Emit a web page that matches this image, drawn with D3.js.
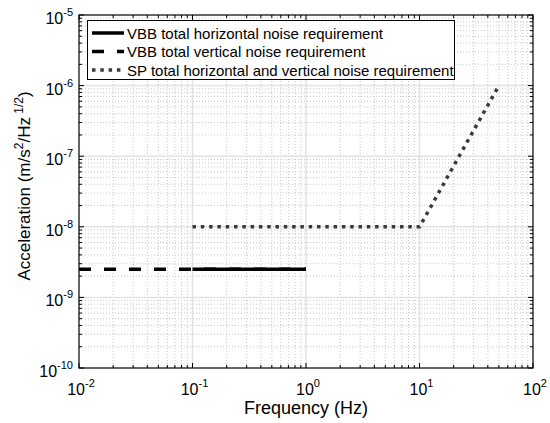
<!DOCTYPE html>
<html><head><meta charset="utf-8">
<script src="https://cdn.jsdelivr.net/npm/d3@7"></script>
<style>body{margin:0;background:#fff}svg{font-family:"Liberation Sans",Arial,sans-serif}</style>
</head><body><svg id="c" width="550" height="423"></svg>
<script>
const vbbHorizontal = [[0.1, 2.5e-9], [1, 2.5e-9]];
const vbbVertical = [[0.01, 2.5e-9], [1, 2.5e-9]];
const spTotal = [[0.1, 1e-8], [10, 1e-8], [50, 1e-6]];
const seriesNames = ["VBB total horizontal noise requirement", "VBB total vertical noise requirement", "SP total horizontal and vertical noise requirement"];
const xExps = [-2, -1, 0, 1, 2];
const yExps = [-10, -9, -8, -7, -6, -5];

const svg = d3.select("#c");
const m = {l: 79, r: 533, t: 15, b: 368};
const x = d3.scaleLog().domain([1e-2, 1e2]).range([m.l, m.r]);
const y = d3.scaleLog().domain([1e-10, 1e-5]).range([m.b, m.t]);

const minorX = [], minorY = [];
for (let e = -2; e < 2; e++) for (let k = 2; k < 10; k++) minorX.push(k * Math.pow(10, e));
for (let e = -10; e < -5; e++) for (let k = 2; k < 10; k++) minorY.push(k * Math.pow(10, e));

const g = svg.append("g");
g.selectAll(".mgx").data(minorX).enter().append("line")
  .attr("x1", d => x(d)).attr("x2", d => x(d)).attr("y1", m.t).attr("y2", m.b)
  .attr("stroke", "#c8c8c8").attr("stroke-width", 1).attr("stroke-dasharray", "1,2");
g.selectAll(".mgy").data(minorY).enter().append("line")
  .attr("y1", d => y(d)).attr("y2", d => y(d)).attr("x1", m.l).attr("x2", m.r)
  .attr("stroke", "#c8c8c8").attr("stroke-width", 1).attr("stroke-dasharray", "1,2");
g.selectAll(".gx").data(xExps.slice(1, -1)).enter().append("line")
  .attr("x1", d => x(Math.pow(10, d))).attr("x2", d => x(Math.pow(10, d))).attr("y1", m.t).attr("y2", m.b)
  .attr("stroke", "#e2e2e2").attr("stroke-width", 1.5);
g.selectAll(".gy").data(yExps.slice(1, -1)).enter().append("line")
  .attr("y1", d => y(Math.pow(10, d))).attr("y2", d => y(Math.pow(10, d))).attr("x1", m.l).attr("x2", m.r)
  .attr("stroke", "#e2e2e2").attr("stroke-width", 1.5);

const tk = svg.append("g").attr("stroke", "#000").attr("stroke-width", 1);
xExps.forEach(e => { const px = x(Math.pow(10, e));
  tk.append("line").attr("x1", px).attr("x2", px).attr("y1", m.b).attr("y2", m.b - 5);
  tk.append("line").attr("x1", px).attr("x2", px).attr("y1", m.t).attr("y2", m.t + 5); });
minorX.forEach(v => { const px = x(v);
  tk.append("line").attr("x1", px).attr("x2", px).attr("y1", m.b).attr("y2", m.b - 3);
  tk.append("line").attr("x1", px).attr("x2", px).attr("y1", m.t).attr("y2", m.t + 3); });
yExps.forEach(e => { const py = y(Math.pow(10, e));
  tk.append("line").attr("y1", py).attr("y2", py).attr("x1", m.l).attr("x2", m.l + 5);
  tk.append("line").attr("y1", py).attr("y2", py).attr("x1", m.r).attr("x2", m.r - 5); });
minorY.forEach(v => { const py = y(v);
  tk.append("line").attr("y1", py).attr("y2", py).attr("x1", m.l).attr("x2", m.l + 3);
  tk.append("line").attr("y1", py).attr("y2", py).attr("x1", m.r).attr("x2", m.r - 3); });

const line = d3.line().x(d => x(d[0])).y(d => y(d[1]));
const dg = svg.append("g");
dg.append("path").datum(vbbVertical).attr("d", line).attr("fill", "none")
  .attr("stroke", "#000").attr("stroke-width", 3.5).attr("stroke-dasharray", "12,13");
dg.append("path").datum(vbbHorizontal).attr("d", line).attr("fill", "none")
  .attr("stroke", "#000").attr("stroke-width", 3.5);
dg.append("path").datum(spTotal).attr("d", line).attr("fill", "none")
  .attr("stroke", "#3a3a3a").attr("stroke-width", 3.5).attr("stroke-dasharray", "3.5,4.8");

svg.append("rect").attr("x", m.l).attr("y", m.t).attr("width", m.r - m.l).attr("height", m.b - m.t)
  .attr("fill", "none").attr("stroke", "#000").attr("stroke-width", 1.2);

xExps.forEach(e => {
  const t = svg.append("text").attr("x", x(Math.pow(10, e)) + 2).attr("y", 395).attr("text-anchor", "middle")
    .attr("font-size", 16).attr("fill", "#000");
  t.append("tspan").text("10");
  t.append("tspan").attr("dy", -8).attr("font-size", 11).text(e);
});
yExps.forEach(e => {
  const t = svg.append("text").attr("x", 73).attr("y", y(Math.pow(10, e)) + 9).attr("text-anchor", "end")
    .attr("font-size", 16).attr("fill", "#000");
  t.append("tspan").text("10");
  t.append("tspan").attr("dy", -8).attr("font-size", 11).text(e);
});

svg.append("text").attr("x", (m.l + m.r) / 2).attr("y", 414).attr("text-anchor", "middle")
  .attr("font-size", 18).text("Frequency (Hz)");
const yt = svg.append("text").attr("transform", `translate(30,186) rotate(-90)`)
  .attr("text-anchor", "middle").attr("font-size", 17);
yt.append("tspan").text("Acceleration (m/s");
yt.append("tspan").attr("dy", -7).attr("font-size", 12).text("2");
yt.append("tspan").attr("dy", 7).text("/Hz");
yt.append("tspan").attr("dy", -7).attr("font-size", 12).text(" 1/2");
yt.append("tspan").attr("dy", 7).text(")");

const lg = svg.append("g");
lg.append("rect").attr("x", 87.5).attr("y", 20.5).attr("width", 367).attr("height", 59)
  .attr("fill", "#fff").attr("stroke", "#000").attr("stroke-width", 1);
const styles = [{c: "#000", d: null}, {c: "#000", d: "12,13"}, {c: "#3a3a3a", d: "3.5,4.8"}];
seriesNames.forEach((n, i) => {
  const yy = 33 + i * 18.5;
  const l = lg.append("line").attr("x1", 92).attr("x2", 124).attr("y1", yy).attr("y2", yy)
    .attr("stroke", styles[i].c).attr("stroke-width", 3.5);
  if (styles[i].d) l.attr("stroke-dasharray", styles[i].d);
  lg.append("text").attr("x", 127).attr("y", yy + 5.5).attr("font-size", 15).text(n);
});
</script></body></html>
